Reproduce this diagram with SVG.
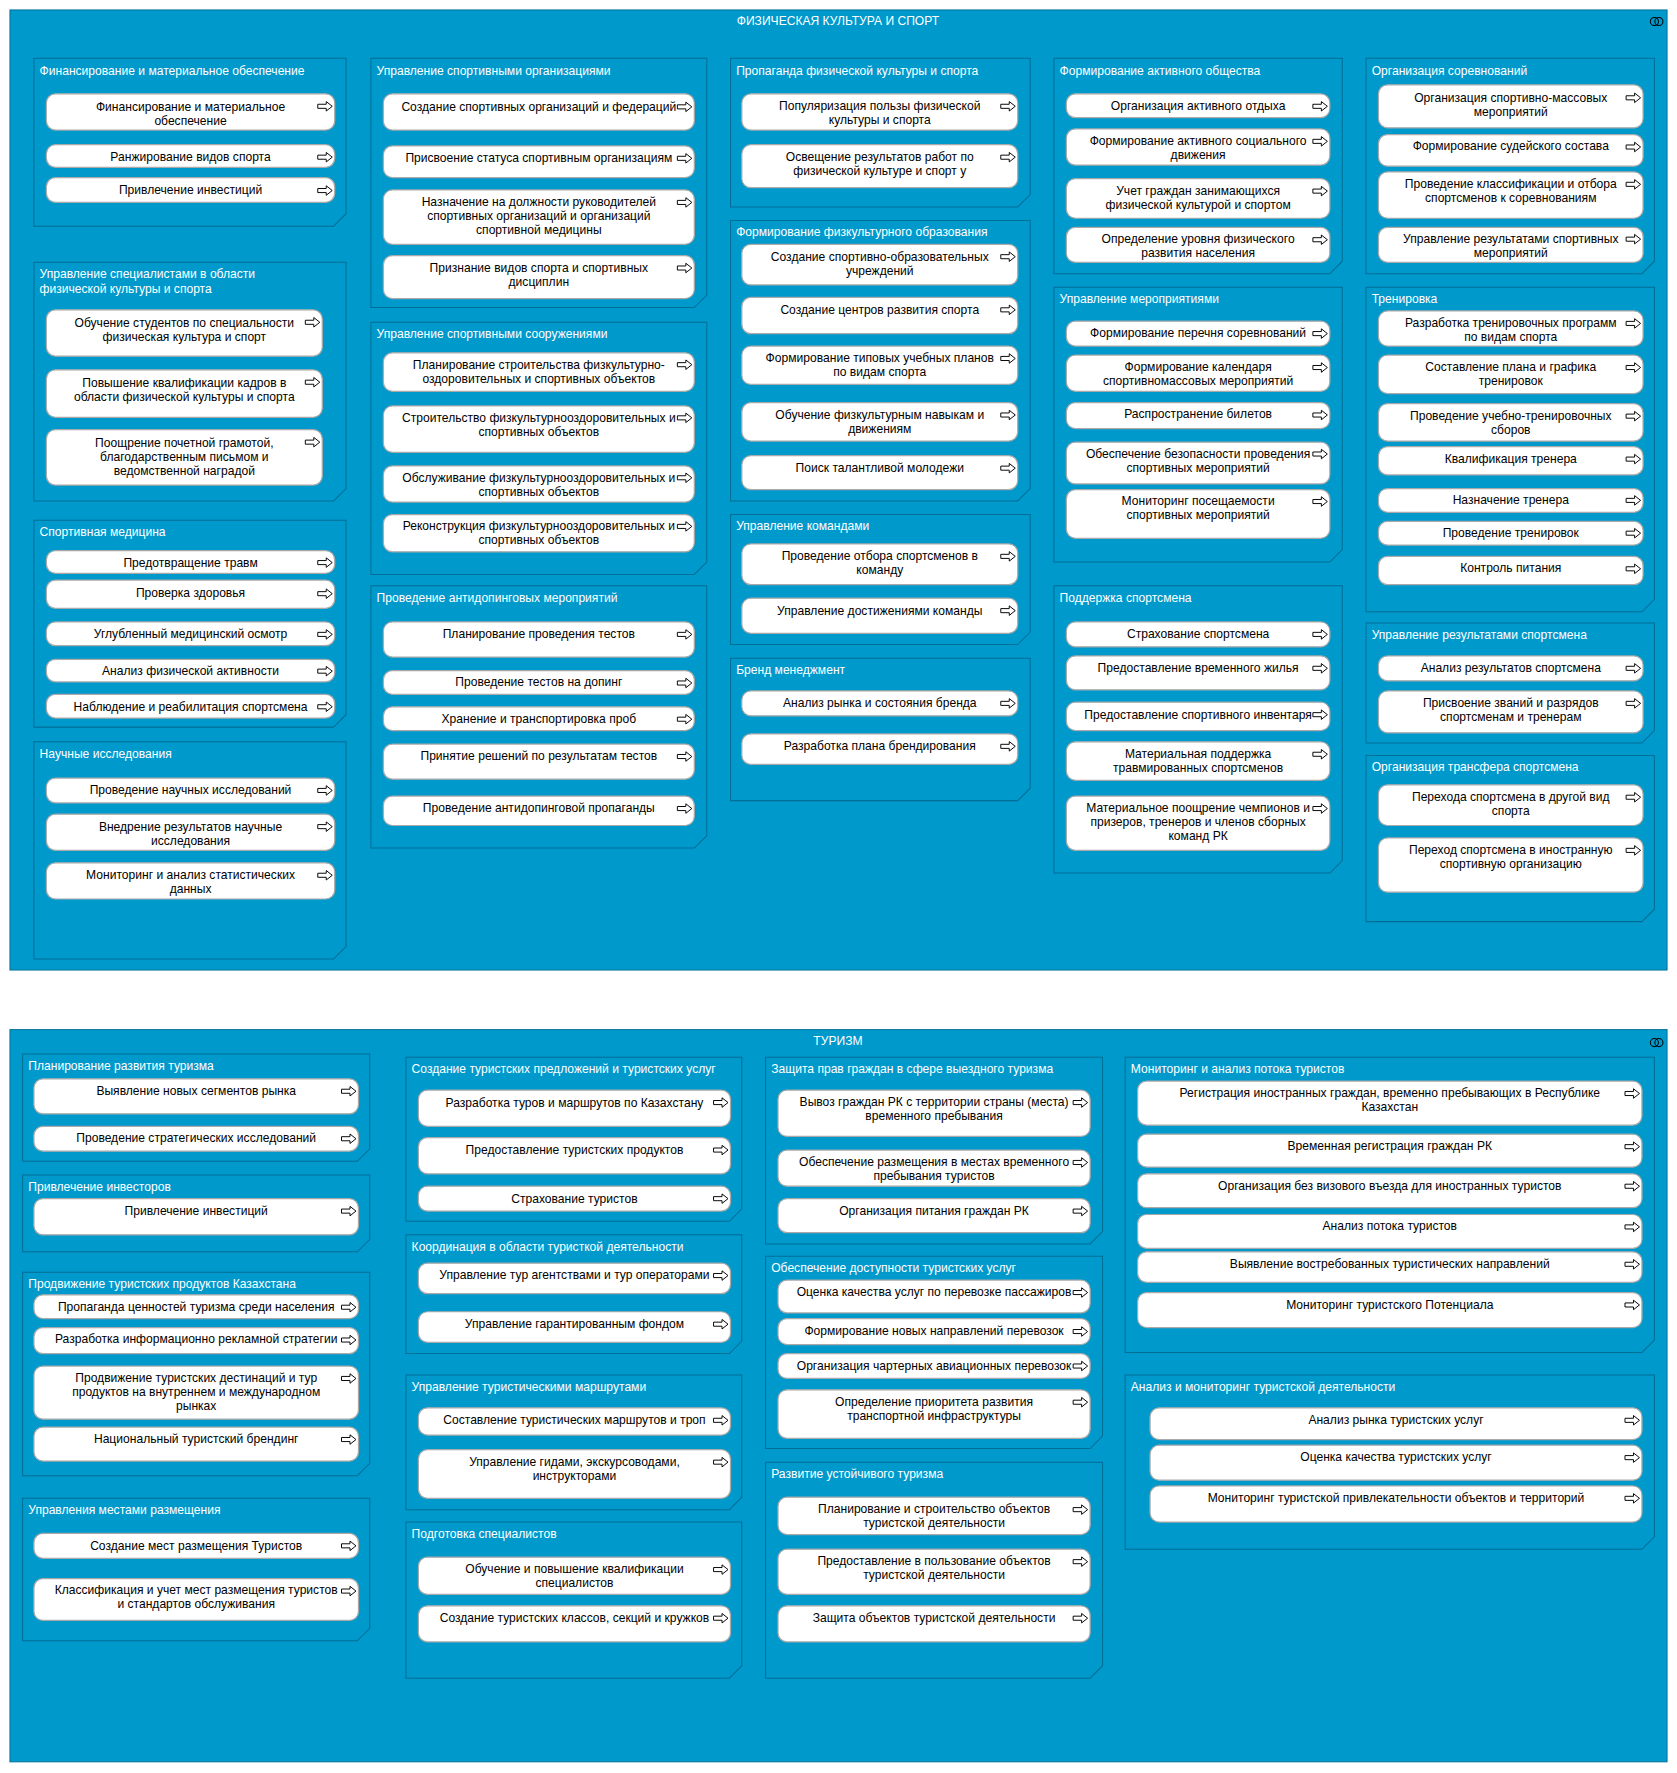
<svg xmlns="http://www.w3.org/2000/svg" xmlns:xlink="http://www.w3.org/1999/xlink" width="1677" height="1773" viewBox="0 0 1677 1773">
<style>
.fr{fill:#0099cc;stroke:#00729a;stroke-width:0.9}
.gp{fill:#0099cc;stroke:#006e95;stroke-width:0.9}
.nd{fill:#fff;stroke:#a9a9a9;stroke-width:1.1}
text{font-family:"Liberation Sans",Arial,sans-serif;font-size:10.7px}
.gl{fill:#fff}
.tt{fill:#fff;text-anchor:middle}
.nt{fill:#000;text-anchor:middle}
.ic{fill:none;stroke:#000;stroke-width:0.9}
</style>
<defs>
<path id="ar" d="M0,-1.8H7.5V-4.2L12.8,0L7.5,4.2V1.8H0Z" fill="#fff" stroke="#000" stroke-width="0.85"/>
</defs>
<rect width="1677" height="1773" fill="#fff"/>
<g transform="scale(1.13082)">
<g id="frame-sport"><rect class="fr" x="8.8" y="8.8" width="1465.4" height="849"/><text class="tt" x="741" y="22">ФИЗИЧЕСКАЯ КУЛЬТУРА И СПОРТ</text><circle class="ic" cx="1463" cy="19" r="3.6"/><circle class="ic" cx="1467" cy="19" r="3.6"/></g>
<g id="frame-tourism"><rect class="fr" x="8.8" y="910.5" width="1465.4" height="647.5"/><text class="tt" x="741" y="924">ТУРИЗМ</text><circle class="ic" cx="1463" cy="922" r="3.6"/><circle class="ic" cx="1467" cy="922" r="3.6"/></g>

<!-- groups top -->
<g id="gA"><path class="gp" d="M30,51.5H306V189L295,200H30Z"/><text class="gl" x="35" y="66">Финансирование и материальное обеспечение</text></g>
<g id="gB"><path class="gp" d="M30,232H306V432L295,443H30Z"/><text class="gl" x="35" y="246">Управление специалистами в области</text><text class="gl" x="35" y="259">физической культуры и спорта</text></g>
<g id="gC"><path class="gp" d="M30,460H306V632L295,643H30Z"/><text class="gl" x="35" y="474">Спортивная медицина</text></g>
<g id="gD"><path class="gp" d="M30,656H306V837L295,848H30Z"/><text class="gl" x="35" y="670">Научные исследования</text></g>
<g id="gE"><path class="gp" d="M328,51.5H625V261L614,272H328Z"/><text class="gl" x="333" y="66">Управление спортивными организациями</text></g>
<g id="gF"><path class="gp" d="M328,285H625V497L614,508H328Z"/><text class="gl" x="333" y="299">Управление спортивными сооружениями</text></g>
<g id="gG"><path class="gp" d="M328,518H625V739L614,750H328Z"/><text class="gl" x="333" y="532">Проведение антидопинговых мероприятий</text></g>
<g id="gH"><path class="gp" d="M646,51.5H911V172L900,183H646Z"/><text class="gl" x="651" y="66">Пропаганда физической культуры и спорта</text></g>
<g id="gI"><path class="gp" d="M646,195H911V432L900,443H646Z"/><text class="gl" x="651" y="209">Формирование физкультурного образования</text></g>
<g id="gJ"><path class="gp" d="M646,455H911V559L900,570H646Z"/><text class="gl" x="651" y="469">Управление командами</text></g>
<g id="gK"><path class="gp" d="M646,582H911V697L900,708H646Z"/><text class="gl" x="651" y="596">Бренд менеджмент</text></g>
<g id="gL"><path class="gp" d="M932,51.5H1187V231L1176,242H932Z"/><text class="gl" x="937" y="66">Формирование активного общества</text></g>
<g id="gM"><path class="gp" d="M932,254H1187V486L1176,497H932Z"/><text class="gl" x="937" y="268">Управление мероприятиями</text></g>
<g id="gN"><path class="gp" d="M932,518H1187V761L1176,772H932Z"/><text class="gl" x="937" y="532">Поддержка спортсмена</text></g>
<g id="gO"><path class="gp" d="M1208,51.5H1463V231L1452,242H1208Z"/><text class="gl" x="1213" y="66">Организация соревнований</text></g>
<g id="gP"><path class="gp" d="M1208,254H1463V530L1452,541H1208Z"/><text class="gl" x="1213" y="268">Тренировка</text></g>
<g id="gQ"><path class="gp" d="M1208,551H1463V646L1452,657H1208Z"/><text class="gl" x="1213" y="565">Управление результатами спортсмена</text></g>
<g id="gR"><path class="gp" d="M1208,668H1463V804L1452,815H1208Z"/><text class="gl" x="1213" y="682">Организация трансфера спортсмена</text></g>

<!-- groups bottom -->
<g id="gBA"><path class="gp" d="M20,932H327V1016L316,1027H20Z"/><text class="gl" x="25" y="946">Планирование развития туризма</text></g>
<g id="gBB"><path class="gp" d="M20,1039H327V1096L316,1107H20Z"/><text class="gl" x="25" y="1053">Привлечение инвесторов</text></g>
<g id="gBC"><path class="gp" d="M20,1125H327V1294L316,1305H20Z"/><text class="gl" x="25" y="1139">Продвижение туристских продуктов Казахстана</text></g>
<g id="gBD"><path class="gp" d="M20,1325H327V1440L316,1451H20Z"/><text class="gl" x="25" y="1339">Управления местами размещения</text></g>
<g id="gBE"><path class="gp" d="M359,935H656V1069L645,1080H359Z"/><text class="gl" x="364" y="949">Создание туристских предложений и туристских услуг</text></g>
<g id="gBF"><path class="gp" d="M359,1092H656V1186L645,1197H359Z"/><text class="gl" x="364" y="1106">Координация в области туристкой деятельности</text></g>
<g id="gBG"><path class="gp" d="M359,1216H656V1324L645,1335H359Z"/><text class="gl" x="364" y="1230">Управление туристическими маршрутами</text></g>
<g id="gBH"><path class="gp" d="M359,1346H656V1473L645,1484H359Z"/><text class="gl" x="364" y="1360">Подготовка специалистов</text></g>
<g id="gBI"><path class="gp" d="M677,935H975V1089L964,1100H677Z"/><text class="gl" x="682" y="949">Защита прав граждан в сфере выездного туризма</text></g>
<g id="gBJ"><path class="gp" d="M677,1111H975V1270L964,1281H677Z"/><text class="gl" x="682" y="1125">Обеспечение доступности туристских услуг</text></g>
<g id="gBK"><path class="gp" d="M677,1293H975V1473L964,1484H677Z"/><text class="gl" x="682" y="1307">Развитие устойчивого туризма</text></g>
<g id="gBL"><path class="gp" d="M995,935H1463V1185L1452,1196H995Z"/><text class="gl" x="1000" y="949">Мониторинг и анализ потока туристов</text></g>
<g id="gBM"><path class="gp" d="M995,1216H1463V1359L1452,1370H995Z"/><text class="gl" x="1000" y="1230">Анализ и мониторинг туристской деятельности</text></g>

<!-- nodes: column 1 top -->
<g id="A1"><rect class="nd" x="41" y="83" width="255" height="32" rx="8"/><text class="nt" y="98"><tspan x="168.5">Финансирование и материальное</tspan><tspan x="168.5" dy="12.4">обеспечение</tspan></text><use href="#ar" x="281" y="94"/></g>
<g id="A2"><rect class="nd" x="41" y="128" width="255" height="20" rx="8"/><text class="nt" x="168.5" y="142">Ранжирование видов спорта</text><use href="#ar" x="281" y="139"/></g>
<g id="A3"><rect class="nd" x="41" y="157" width="255" height="22" rx="8"/><text class="nt" x="168.5" y="171.5">Привлечение инвестиций</text><use href="#ar" x="281" y="168.5"/></g>
<g id="B1"><rect class="nd" x="41" y="274" width="244" height="41" rx="8"/><text class="nt" y="289"><tspan x="163">Обучение студентов по специальности</tspan><tspan x="163" dy="12.4">физическая культура и спорт</tspan></text><use href="#ar" x="270" y="285"/></g>
<g id="B2"><rect class="nd" x="41" y="327" width="244" height="42" rx="8"/><text class="nt" y="342"><tspan x="163">Повышение квалификации кадров в</tspan><tspan x="163" dy="12.4">области физической культуры и спорта</tspan></text><use href="#ar" x="270" y="338"/></g>
<g id="B3"><rect class="nd" x="41" y="380" width="244" height="49" rx="8"/><text class="nt" y="395"><tspan x="163">Поощрение почетной грамотой,</tspan><tspan x="163" dy="12.4">благодарственным письмом и</tspan><tspan x="163" dy="12.4">ведомственной наградой</tspan></text><use href="#ar" x="270" y="391"/></g>
<g id="C1"><rect class="nd" x="41" y="487" width="255" height="20" rx="8"/><text class="nt" x="168.5" y="501">Предотвращение травм</text><use href="#ar" x="281" y="497.5"/></g>
<g id="C2"><rect class="nd" x="41" y="513" width="255" height="25" rx="8"/><text class="nt" x="168.5" y="528">Проверка здоровья</text><use href="#ar" x="281" y="525"/></g>
<g id="C3"><rect class="nd" x="41" y="550" width="255" height="21" rx="8"/><text class="nt" x="168.5" y="564.5">Углубленный медицинский осмотр</text><use href="#ar" x="281" y="561"/></g>
<g id="C4"><rect class="nd" x="41" y="583" width="255" height="20" rx="8"/><text class="nt" x="168.5" y="597">Анализ физической активности</text><use href="#ar" x="281" y="593.5"/></g>
<g id="C5"><rect class="nd" x="41" y="614" width="255" height="21" rx="8"/><text class="nt" x="168.5" y="628.5">Наблюдение и реабилитация спортсмена</text><use href="#ar" x="281" y="625"/></g>
<g id="D1"><rect class="nd" x="41" y="688" width="255" height="22" rx="8"/><text class="nt" x="168.5" y="702.5">Проведение научных исследований</text><use href="#ar" x="281" y="699"/></g>
<g id="D2"><rect class="nd" x="41" y="720" width="255" height="32" rx="8"/><text class="nt" y="734.5"><tspan x="168.5">Внедрение результатов научные</tspan><tspan x="168.5" dy="12.4">исследования</tspan></text><use href="#ar" x="281" y="731"/></g>
<g id="D3"><rect class="nd" x="41" y="763" width="255" height="32" rx="8"/><text class="nt" y="777.5"><tspan x="168.5">Мониторинг и анализ статистических</tspan><tspan x="168.5" dy="12.4">данных</tspan></text><use href="#ar" x="281" y="774"/></g>

<!-- column 2 top -->
<g id="E1"><rect class="nd" x="339" y="83" width="275" height="32" rx="8"/><text class="nt" x="476.5" y="98">Создание спортивных организаций и федераций</text><use href="#ar" x="599" y="94.5"/></g>
<g id="E2"><rect class="nd" x="339" y="129" width="275" height="28" rx="8"/><text class="nt" x="476.5" y="143.5">Присвоение статуса спортивным организациям</text><use href="#ar" x="599" y="140"/></g>
<g id="E3"><rect class="nd" x="339" y="168" width="275" height="48" rx="8"/><text class="nt" y="182"><tspan x="476.5">Назначение на должности руководителей</tspan><tspan x="476.5" dy="12.4">спортивных организаций и организаций</tspan><tspan x="476.5" dy="12.4">спортивной медицины</tspan></text><use href="#ar" x="599" y="179"/></g>
<g id="E4"><rect class="nd" x="339" y="226" width="275" height="38" rx="8"/><text class="nt" y="240.5"><tspan x="476.5">Признание видов спорта и спортивных</tspan><tspan x="476.5" dy="12.4">дисциплин</tspan></text><use href="#ar" x="599" y="237"/></g>
<g id="F1"><rect class="nd" x="339" y="312" width="275" height="34" rx="8"/><text class="nt" y="326"><tspan x="476.5">Планирование строительства физкультурно-</tspan><tspan x="476.5" dy="12.4">оздоровительных и спортивных объектов</tspan></text><use href="#ar" x="599" y="322.5"/></g>
<g id="F2"><rect class="nd" x="339" y="359" width="275" height="41" rx="8"/><text class="nt" y="373"><tspan x="476.5">Строительство физкультурнооздоровительных и</tspan><tspan x="476.5" dy="12.4">спортивных объектов</tspan></text><use href="#ar" x="599" y="369.5"/></g>
<g id="F3"><rect class="nd" x="339" y="412" width="275" height="32" rx="8"/><text class="nt" y="426"><tspan x="476.5">Обслуживание физкультурнооздоровительных и</tspan><tspan x="476.5" dy="12.4">спортивных объектов</tspan></text><use href="#ar" x="599" y="422.5"/></g>
<g id="F4"><rect class="nd" x="339" y="455" width="275" height="33" rx="8"/><text class="nt" y="469"><tspan x="476.5">Реконструкция физкультурнооздоровительных и</tspan><tspan x="476.5" dy="12.4">спортивных объектов</tspan></text><use href="#ar" x="599" y="465.5"/></g>
<g id="G1"><rect class="nd" x="339" y="550" width="275" height="31" rx="8"/><text class="nt" x="476.5" y="564.5">Планирование проведения тестов</text><use href="#ar" x="599" y="561"/></g>
<g id="G2"><rect class="nd" x="339" y="593" width="275" height="21" rx="8"/><text class="nt" x="476.5" y="607">Проведение тестов на допинг</text><use href="#ar" x="599" y="604"/></g>
<g id="G3"><rect class="nd" x="339" y="625" width="275" height="21" rx="8"/><text class="nt" x="476.5" y="639">Хранение и транспортировка проб</text><use href="#ar" x="599" y="636"/></g>
<g id="G4"><rect class="nd" x="339" y="658" width="275" height="31" rx="8"/><text class="nt" x="476.5" y="672.5">Принятие решений по результатам тестов</text><use href="#ar" x="599" y="669"/></g>
<g id="G5"><rect class="nd" x="339" y="704" width="275" height="26" rx="8"/><text class="nt" x="476.5" y="718.5">Проведение антидопинговой пропаганды</text><use href="#ar" x="599" y="715"/></g>

<!-- column 3 top -->
<g id="H1"><rect class="nd" x="656" y="83" width="244" height="32" rx="8"/><text class="nt" y="97.5"><tspan x="778">Популяризация пользы физической</tspan><tspan x="778" dy="12.4">культуры и спорта</tspan></text><use href="#ar" x="885" y="94"/></g>
<g id="H2"><rect class="nd" x="656" y="128" width="244" height="38" rx="8"/><text class="nt" y="142.5"><tspan x="778">Освещение результатов работ по</tspan><tspan x="778" dy="12.4">физической культуре и спорт у</tspan></text><use href="#ar" x="885" y="139"/></g>
<g id="I1"><rect class="nd" x="656" y="216" width="244" height="36" rx="8"/><text class="nt" y="230.5"><tspan x="778">Создание спортивно-образовательных</tspan><tspan x="778" dy="12.4">учреждений</tspan></text><use href="#ar" x="885" y="227"/></g>
<g id="I2"><rect class="nd" x="656" y="263" width="244" height="32" rx="8"/><text class="nt" x="778" y="277.5">Создание центров развития спорта</text><use href="#ar" x="885" y="274"/></g>
<g id="I3"><rect class="nd" x="656" y="306" width="244" height="34" rx="8"/><text class="nt" y="320.5"><tspan x="778">Формирование типовых учебных планов</tspan><tspan x="778" dy="12.4">по видам спорта</tspan></text><use href="#ar" x="885" y="317"/></g>
<g id="I4"><rect class="nd" x="656" y="356" width="244" height="34" rx="8"/><text class="nt" y="370.5"><tspan x="778">Обучение физкультурным навыкам и</tspan><tspan x="778" dy="12.4">движениям</tspan></text><use href="#ar" x="885" y="367"/></g>
<g id="I5"><rect class="nd" x="656" y="403" width="244" height="30" rx="8"/><text class="nt" x="778" y="417.5">Поиск талантливой молодежи</text><use href="#ar" x="885" y="414"/></g>
<g id="J1"><rect class="nd" x="656" y="481" width="244" height="36" rx="8"/><text class="nt" y="495.5"><tspan x="778">Проведение отбора спортсменов в</tspan><tspan x="778" dy="12.4">команду</tspan></text><use href="#ar" x="885" y="492"/></g>
<g id="J2"><rect class="nd" x="656" y="529" width="244" height="31" rx="8"/><text class="nt" x="778" y="543.5">Управление достижениями команды</text><use href="#ar" x="885" y="540"/></g>
<g id="K1"><rect class="nd" x="656" y="611" width="244" height="22" rx="8"/><text class="nt" x="778" y="625.5">Анализ рынка и состояния бренда</text><use href="#ar" x="885" y="622"/></g>
<g id="K2"><rect class="nd" x="656" y="649" width="244" height="27" rx="8"/><text class="nt" x="778" y="663.5">Разработка плана брендирования</text><use href="#ar" x="885" y="660"/></g>

<!-- column 4 top -->
<g id="L1"><rect class="nd" x="943" y="83" width="233" height="21" rx="8"/><text class="nt" x="1059.5" y="97">Организация активного отдыха</text><use href="#ar" x="1161" y="94"/></g>
<g id="L2"><rect class="nd" x="943" y="114" width="233" height="32" rx="8"/><text class="nt" y="128"><tspan x="1059.5">Формирование активного социального</tspan><tspan x="1059.5" dy="12.4">движения</tspan></text><use href="#ar" x="1161" y="125"/></g>
<g id="L3"><rect class="nd" x="943" y="158" width="233" height="35" rx="8"/><text class="nt" y="172.5"><tspan x="1059.5">Учет граждан занимающихся</tspan><tspan x="1059.5" dy="12.4">физической культурой и спортом</tspan></text><use href="#ar" x="1161" y="169"/></g>
<g id="L4"><rect class="nd" x="943" y="201" width="233" height="31" rx="8"/><text class="nt" y="215"><tspan x="1059.5">Определение уровня физического</tspan><tspan x="1059.5" dy="12.4">развития населения</tspan></text><use href="#ar" x="1161" y="212"/></g>
<g id="M1"><rect class="nd" x="943" y="284" width="233" height="22" rx="8"/><text class="nt" x="1059.5" y="298">Формирование перечня соревнований</text><use href="#ar" x="1161" y="295"/></g>
<g id="M2"><rect class="nd" x="943" y="314" width="233" height="32" rx="8"/><text class="nt" y="328.5"><tspan x="1059.5">Формирование календаря</tspan><tspan x="1059.5" dy="12.4">спортивномассовых мероприятий</tspan></text><use href="#ar" x="1161" y="325"/></g>
<g id="M3"><rect class="nd" x="943" y="356" width="233" height="23" rx="8"/><text class="nt" x="1059.5" y="370">Распространение билетов</text><use href="#ar" x="1161" y="367"/></g>
<g id="M4"><rect class="nd" x="943" y="391" width="233" height="37" rx="8"/><text class="nt" y="405"><tspan x="1059.5">Обеспечение безопасности проведения</tspan><tspan x="1059.5" dy="12.4">спортивных мероприятий</tspan></text><use href="#ar" x="1161" y="401.5"/></g>
<g id="M5"><rect class="nd" x="943" y="433" width="233" height="43" rx="8"/><text class="nt" y="447"><tspan x="1059.5">Мониторинг посещаемости</tspan><tspan x="1059.5" dy="12.4">спортивных мероприятий</tspan></text><use href="#ar" x="1161" y="443.5"/></g>
<g id="N1"><rect class="nd" x="943" y="550" width="233" height="22" rx="8"/><text class="nt" x="1059.5" y="564.5">Страхование спортсмена</text><use href="#ar" x="1161" y="561"/></g>
<g id="N2"><rect class="nd" x="943" y="580" width="233" height="30" rx="8"/><text class="nt" x="1059.5" y="594">Предоставление временного жилья</text><use href="#ar" x="1161" y="591"/></g>
<g id="N3"><rect class="nd" x="943" y="621" width="233" height="25" rx="8"/><text class="nt" x="1059.5" y="635.5">Предоставление спортивного инвентаря</text><use href="#ar" x="1161" y="632"/></g>
<g id="N4"><rect class="nd" x="943" y="656" width="233" height="34" rx="8"/><text class="nt" y="670"><tspan x="1059.5">Материальная поддержка</tspan><tspan x="1059.5" dy="12.4">травмированных спортсменов</tspan></text><use href="#ar" x="1161" y="667"/></g>
<g id="N5"><rect class="nd" x="943" y="704" width="233" height="48" rx="8"/><text class="nt" y="718"><tspan x="1059.5">Материальное поощрение чемпионов и</tspan><tspan x="1059.5" dy="12.4">призеров, тренеров и членов сборных</tspan><tspan x="1059.5" dy="12.4">команд РК</tspan></text><use href="#ar" x="1161" y="715"/></g>

<!-- column 5 top -->
<g id="O1"><rect class="nd" x="1219" y="75" width="234" height="38" rx="8"/><text class="nt" y="90"><tspan x="1336">Организация спортивно-массовых</tspan><tspan x="1336" dy="12.4">мероприятий</tspan></text><use href="#ar" x="1438" y="86.5"/></g>
<g id="O2"><rect class="nd" x="1219" y="119" width="234" height="28" rx="8"/><text class="nt" x="1336" y="133">Формирование судейского состава</text><use href="#ar" x="1438" y="130"/></g>
<g id="O3"><rect class="nd" x="1219" y="152" width="234" height="41" rx="8"/><text class="nt" y="166.5"><tspan x="1336">Проведение классификации и отбора</tspan><tspan x="1336" dy="12.4">спортсменов к соревнованиям</tspan></text><use href="#ar" x="1438" y="163"/></g>
<g id="O4"><rect class="nd" x="1219" y="201" width="234" height="31" rx="8"/><text class="nt" y="215"><tspan x="1336">Управление результатами спортивных</tspan><tspan x="1336" dy="12.4">мероприятий</tspan></text><use href="#ar" x="1438" y="211.5"/></g>
<g id="P1"><rect class="nd" x="1219" y="275" width="234" height="31" rx="8"/><text class="nt" y="289"><tspan x="1336">Разработка тренировочных программ</tspan><tspan x="1336" dy="12.4">по видам спорта</tspan></text><use href="#ar" x="1438" y="286"/></g>
<g id="P2"><rect class="nd" x="1219" y="314" width="234" height="34" rx="8"/><text class="nt" y="328.5"><tspan x="1336">Составление плана и графика</tspan><tspan x="1336" dy="12.4">тренировок</tspan></text><use href="#ar" x="1438" y="325"/></g>
<g id="P3"><rect class="nd" x="1219" y="357" width="234" height="33" rx="8"/><text class="nt" y="371.5"><tspan x="1336">Проведение учебно-тренировочных</tspan><tspan x="1336" dy="12.4">сборов</tspan></text><use href="#ar" x="1438" y="368"/></g>
<g id="P4"><rect class="nd" x="1219" y="395" width="234" height="25" rx="8"/><text class="nt" x="1336" y="409">Квалификация тренера</text><use href="#ar" x="1438" y="406"/></g>
<g id="P5"><rect class="nd" x="1219" y="432" width="234" height="21" rx="8"/><text class="nt" x="1336" y="446">Назначение тренера</text><use href="#ar" x="1438" y="442.5"/></g>
<g id="P6"><rect class="nd" x="1219" y="461" width="234" height="21" rx="8"/><text class="nt" x="1336" y="475">Проведение тренировок</text><use href="#ar" x="1438" y="471.5"/></g>
<g id="P7"><rect class="nd" x="1219" y="492" width="234" height="25" rx="8"/><text class="nt" x="1336" y="506">Контроль питания</text><use href="#ar" x="1438" y="503"/></g>
<g id="Q1"><rect class="nd" x="1219" y="580" width="234" height="22" rx="8"/><text class="nt" x="1336" y="594">Анализ результатов спортсмена</text><use href="#ar" x="1438" y="591"/></g>
<g id="Q2"><rect class="nd" x="1219" y="611" width="234" height="37" rx="8"/><text class="nt" y="625"><tspan x="1336">Присвоение званий и разрядов</tspan><tspan x="1336" dy="12.4">спортсменам и тренерам</tspan></text><use href="#ar" x="1438" y="622"/></g>
<g id="R1"><rect class="nd" x="1219" y="694" width="234" height="36" rx="8"/><text class="nt" y="708"><tspan x="1336">Перехода спортсмена в другой вид</tspan><tspan x="1336" dy="12.4">спорта</tspan></text><use href="#ar" x="1438" y="705"/></g>
<g id="R2"><rect class="nd" x="1219" y="741" width="234" height="48" rx="8"/><text class="nt" y="755"><tspan x="1336">Переход спортсмена в иностранную</tspan><tspan x="1336" dy="12.4">спортивную организацию</tspan></text><use href="#ar" x="1438" y="752"/></g>

<!-- bottom column 1 -->
<g id="BA1"><rect class="nd" x="30" y="954" width="287" height="31" rx="8"/><text class="nt" x="173.5" y="968">Выявление новых сегментов рынка</text><use href="#ar" x="302" y="965"/></g>
<g id="BA2"><rect class="nd" x="30" y="996" width="287" height="22" rx="8"/><text class="nt" x="173.5" y="1010">Проведение стратегических исследований</text><use href="#ar" x="302" y="1007"/></g>
<g id="BB1"><rect class="nd" x="30" y="1060" width="287" height="32" rx="8"/><text class="nt" x="173.5" y="1074.5">Привлечение инвестиций</text><use href="#ar" x="302" y="1071"/></g>
<g id="BC1"><rect class="nd" x="30" y="1145" width="287" height="21" rx="8"/><text class="nt" x="173.5" y="1159">Пропаганда ценностей туризма среди населения</text><use href="#ar" x="302" y="1156"/></g>
<g id="BC2"><rect class="nd" x="30" y="1174" width="287" height="23" rx="8"/><text class="nt" x="173.5" y="1188">Разработка информационно рекламной стратегии</text><use href="#ar" x="302" y="1185"/></g>
<g id="BC3"><rect class="nd" x="30" y="1208" width="287" height="47" rx="8"/><text class="nt" y="1222"><tspan x="173.5">Продвижение туристских дестинаций и тур</tspan><tspan x="173.5" dy="12.4">продуктов на внутреннем и международном</tspan><tspan x="173.5" dy="12.4">рынках</tspan></text><use href="#ar" x="302" y="1219"/></g>
<g id="BC4"><rect class="nd" x="30" y="1262" width="287" height="30" rx="8"/><text class="nt" x="173.5" y="1276">Национальный туристский брендинг</text><use href="#ar" x="302" y="1273"/></g>
<g id="BD1"><rect class="nd" x="30" y="1356" width="287" height="22" rx="8"/><text class="nt" x="173.5" y="1370.5">Создание мест размещения Туристов</text><use href="#ar" x="302" y="1367"/></g>
<g id="BD2"><rect class="nd" x="30" y="1396" width="287" height="37" rx="8"/><text class="nt" y="1410"><tspan x="173.5">Классификация и учет мест размещения туристов</tspan><tspan x="173.5" dy="12.4">и стандартов обслуживания</tspan></text><use href="#ar" x="302" y="1407"/></g>

<!-- bottom column 2 -->
<g id="BE1"><rect class="nd" x="370" y="964" width="276" height="32" rx="8"/><text class="nt" x="508" y="978.5">Разработка туров и маршрутов по Казахстану</text><use href="#ar" x="631" y="975"/></g>
<g id="BE2"><rect class="nd" x="370" y="1006" width="276" height="32" rx="8"/><text class="nt" x="508" y="1020.5">Предоставление туристских продуктов</text><use href="#ar" x="631" y="1017"/></g>
<g id="BE3"><rect class="nd" x="370" y="1049" width="276" height="22" rx="8"/><text class="nt" x="508" y="1063.5">Страхование туристов</text><use href="#ar" x="631" y="1060"/></g>
<g id="BF1"><rect class="nd" x="370" y="1117" width="276" height="27" rx="8"/><text class="nt" x="508" y="1131">Управление тур агентствами и тур операторами</text><use href="#ar" x="631" y="1128"/></g>
<g id="BF2"><rect class="nd" x="370" y="1160" width="276" height="27" rx="8"/><text class="nt" x="508" y="1174">Управление гарантированным фондом</text><use href="#ar" x="631" y="1171"/></g>
<g id="BG1"><rect class="nd" x="370" y="1245" width="276" height="24" rx="8"/><text class="nt" x="508" y="1259">Составление туристических маршрутов и троп</text><use href="#ar" x="631" y="1256"/></g>
<g id="BG2"><rect class="nd" x="370" y="1282" width="276" height="43" rx="8"/><text class="nt" y="1296"><tspan x="508">Управление гидами, экскурсоводами,</tspan><tspan x="508" dy="12.4">инструкторами</tspan></text><use href="#ar" x="631" y="1293"/></g>
<g id="BH1"><rect class="nd" x="370" y="1377" width="276" height="33" rx="8"/><text class="nt" y="1391"><tspan x="508">Обучение и повышение квалификации</tspan><tspan x="508" dy="12.4">специалистов</tspan></text><use href="#ar" x="631" y="1388"/></g>
<g id="BH2"><rect class="nd" x="370" y="1420" width="276" height="32" rx="8"/><text class="nt" x="508" y="1434.5">Создание туристских классов, секций и кружков</text><use href="#ar" x="631" y="1431"/></g>

<!-- bottom column 3 -->
<g id="BI1"><rect class="nd" x="688" y="964" width="276" height="41" rx="8"/><text class="nt" y="978"><tspan x="826">Вывоз граждан РК с территории страны (места)</tspan><tspan x="826" dy="12.4">временного пребывания</tspan></text><use href="#ar" x="949" y="975"/></g>
<g id="BI2"><rect class="nd" x="688" y="1017" width="276" height="32" rx="8"/><text class="nt" y="1031"><tspan x="826">Обеспечение размещения в местах временного</tspan><tspan x="826" dy="12.4">пребывания туристов</tspan></text><use href="#ar" x="949" y="1028"/></g>
<g id="BI3"><rect class="nd" x="688" y="1060" width="276" height="30" rx="8"/><text class="nt" x="826" y="1074">Организация питания граждан РК</text><use href="#ar" x="949" y="1071"/></g>
<g id="BJ1"><rect class="nd" x="688" y="1132" width="276" height="29" rx="8"/><text class="nt" x="826" y="1146">Оценка качества услуг по перевозке пассажиров</text><use href="#ar" x="949" y="1143"/></g>
<g id="BJ2"><rect class="nd" x="688" y="1166" width="276" height="23" rx="8"/><text class="nt" x="826" y="1181">Формирование новых направлений перевозок</text><use href="#ar" x="949" y="1177.5"/></g>
<g id="BJ3"><rect class="nd" x="688" y="1197" width="276" height="22" rx="8"/><text class="nt" x="826" y="1211.5">Организация чартерных авиационных перевозок</text><use href="#ar" x="949" y="1208"/></g>
<g id="BJ4"><rect class="nd" x="688" y="1229" width="276" height="43" rx="8"/><text class="nt" y="1243"><tspan x="826">Определение приоритета развития</tspan><tspan x="826" dy="12.4">транспортной инфраструктуры</tspan></text><use href="#ar" x="949" y="1240"/></g>
<g id="BK1"><rect class="nd" x="688" y="1324" width="276" height="33" rx="8"/><text class="nt" y="1338"><tspan x="826">Планирование и строительство объектов</tspan><tspan x="826" dy="12.4">туристской деятельности</tspan></text><use href="#ar" x="949" y="1335"/></g>
<g id="BK2"><rect class="nd" x="688" y="1370" width="276" height="40" rx="8"/><text class="nt" y="1384"><tspan x="826">Предоставление в пользование объектов</tspan><tspan x="826" dy="12.4">туристской деятельности</tspan></text><use href="#ar" x="949" y="1381"/></g>
<g id="BK3"><rect class="nd" x="688" y="1420" width="276" height="32" rx="8"/><text class="nt" x="826" y="1434.5">Защита объектов туристской деятельности</text><use href="#ar" x="949" y="1431"/></g>

<!-- bottom column 4 -->
<g id="BL1"><rect class="nd" x="1006" y="956" width="446" height="39" rx="8"/><text class="nt" y="970"><tspan x="1229">Регистрация иностранных граждан, временно пребывающих в Республике</tspan><tspan x="1229" dy="12.4">Казахстан</tspan></text><use href="#ar" x="1437" y="967"/></g>
<g id="BL2"><rect class="nd" x="1006" y="1003" width="446" height="29" rx="8"/><text class="nt" x="1229" y="1017">Временная регистрация граждан РК</text><use href="#ar" x="1437" y="1014"/></g>
<g id="BL3"><rect class="nd" x="1006" y="1038" width="446" height="30" rx="8"/><text class="nt" x="1229" y="1052">Организация без визового въезда для иностранных туристов</text><use href="#ar" x="1437" y="1049"/></g>
<g id="BL4"><rect class="nd" x="1006" y="1074" width="446" height="30" rx="8"/><text class="nt" x="1229" y="1088">Анализ потока туристов</text><use href="#ar" x="1437" y="1085"/></g>
<g id="BL5"><rect class="nd" x="1006" y="1107" width="446" height="27" rx="8"/><text class="nt" x="1229" y="1121">Выявление востребованных туристических направлений</text><use href="#ar" x="1437" y="1118"/></g>
<g id="BL6"><rect class="nd" x="1006" y="1143" width="446" height="31" rx="8"/><text class="nt" x="1229" y="1157.5">Мониторинг туристского Потенциала</text><use href="#ar" x="1437" y="1154"/></g>
<g id="BM1"><rect class="nd" x="1017" y="1245" width="435" height="28" rx="8"/><text class="nt" x="1234.5" y="1259">Анализ рынка туристских услуг</text><use href="#ar" x="1437" y="1256"/></g>
<g id="BM2"><rect class="nd" x="1017" y="1278" width="435" height="31" rx="8"/><text class="nt" x="1234.5" y="1292">Оценка качества туристских услуг</text><use href="#ar" x="1437" y="1289"/></g>
<g id="BM3"><rect class="nd" x="1017" y="1314" width="435" height="32" rx="8"/><text class="nt" x="1234.5" y="1328.5">Мониторинг туристской привлекательности объектов и территорий</text><use href="#ar" x="1437" y="1325"/></g>
<g id="connectors"/>
</g>
</svg>
